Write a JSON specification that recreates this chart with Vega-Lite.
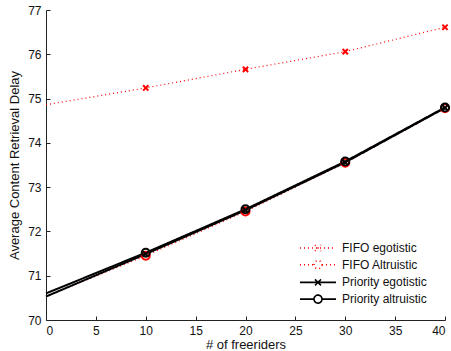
{
  "$schema": "https://vega.github.io/schema/vega-lite/v6.json",
  "width": 399,
  "height": 310,
  "autosize": {"type": "none"},
  "padding": {"left": 46, "top": 10, "right": 6, "bottom": 31},
  "background": "white",
  "config": {
    "font": "Liberation Sans",
    "view": {"stroke": null},
    "axis": {
      "grid": false,
      "domainColor": "#222",
      "tickColor": "#222",
      "labelColor": "#111",
      "titleColor": "#111",
      "labelFontSize": 12,
      "titleFontSize": 13,
      "titleFontWeight": "normal",
      "labelPadding": 5
    }
  },
  "data": {
    "values": [
      {"series": "FIFO egotistic", "x": 0, "y": 74.86},
      {"series": "FIFO egotistic", "x": 10, "y": 75.24},
      {"series": "FIFO egotistic", "x": 20, "y": 75.66},
      {"series": "FIFO egotistic", "x": 30, "y": 76.06},
      {"series": "FIFO egotistic", "x": 40, "y": 76.61},
      {"series": "FIFO Altruistic", "x": 0, "y": 70.53},
      {"series": "FIFO Altruistic", "x": 10, "y": 71.45},
      {"series": "FIFO Altruistic", "x": 20, "y": 72.45},
      {"series": "FIFO Altruistic", "x": 30, "y": 73.55},
      {"series": "FIFO Altruistic", "x": 40, "y": 74.78},
      {"series": "Priority egotistic", "x": 0, "y": 70.53},
      {"series": "Priority egotistic", "x": 10, "y": 71.49},
      {"series": "Priority egotistic", "x": 20, "y": 72.48},
      {"series": "Priority egotistic", "x": 30, "y": 73.56},
      {"series": "Priority egotistic", "x": 40, "y": 74.79},
      {"series": "Priority altruistic", "x": 0, "y": 70.6},
      {"series": "Priority altruistic", "x": 10, "y": 71.52},
      {"series": "Priority altruistic", "x": 20, "y": 72.5},
      {"series": "Priority altruistic", "x": 30, "y": 73.58},
      {"series": "Priority altruistic", "x": 40, "y": 74.8}
    ]
  },
  "resolve": {"axis": {"x": "independent", "y": "independent"}},
  "layer": [
    {
      "transform": [{"filter": "indexof(datum.series, 'FIFO') === 0"}],
      "mark": {"type": "line", "strokeWidth": 1.2, "clip": false},
      "encoding": {
        "x": {
          "field": "x", "type": "quantitative",
          "scale": {"domain": [0, 40], "nice": false},
          "axis": {"values": [0, 5, 10, 15, 20, 25, 30, 35, 40], "title": "# of freeriders", "titlePadding": 2, "orient": "bottom", "ticks": false}
        },
        "y": {
          "field": "y", "type": "quantitative",
          "scale": {"domain": [70, 77], "nice": false, "zero": false},
          "axis": {"values": [70, 71, 72, 73, 74, 75, 76, 77], "title": "Average Content Retrieval Delay", "titlePadding": 6, "orient": "left", "ticks": false}
        },
        "color": {
          "field": "series", "type": "nominal",
          "scale": {
            "domain": ["FIFO egotistic", "FIFO Altruistic", "Priority egotistic", "Priority altruistic"],
            "range": ["#ff0000", "#ff0000", "#000000", "#000000"]
          },
          "legend": {
            "title": null,
            "orient": "none",
            "legendX": 273,
            "legendY": 229,
            "labelFontSize": 12,
            "labelColor": "#111",
            "rowPadding": 0.7,
            "labelOffset": 5,
            "symbolSize": 256,
            "symbolStrokeWidth": 1.6,
            "encode": {
              "symbols": {
                "update": {
                  "shape": {"signal": "indexof(datum.label, 'egotistic') > 0 ? 'M-3.5,0H1M-1.625,-0.375L-0.875,0.375M-1.625,0.375L-0.875,-0.375' : 'M-3.5,0H-1.75M-0.75,0H1M-0.75,0A0.5,0.5 0 1,1 -1.75,0A0.5,0.5 0 1,1 -0.75,0'"}
                }
              }
            }
          }
        },
        "strokeDash": {
          "field": "series", "type": "nominal",
          "scale": {
            "domain": ["FIFO egotistic", "FIFO Altruistic", "Priority egotistic", "Priority altruistic"],
            "range": [[1, 3], [1, 3], [1, 0], [1, 0]]
          }
        }
      }
    },
    {
      "transform": [{"filter": "indexof(datum.series, 'Priority') === 0"}],
      "mark": {"type": "line", "strokeWidth": 2, "clip": false},
      "encoding": {
        "x": {"field": "x", "type": "quantitative", "axis": {"orient": "bottom", "values": [0, 5, 10, 15, 20, 25, 30, 35, 40], "ticks": true, "tickSize": 4, "offset": -4, "labels": false, "domain": false, "title": null}},
        "y": {"field": "y", "type": "quantitative", "axis": {"orient": "left", "values": [70, 71, 72, 73, 74, 75, 76, 77], "ticks": true, "tickSize": 4, "offset": -4, "labels": false, "domain": false, "title": null}},
        "color": {"field": "series", "type": "nominal"},
        "strokeDash": {"field": "series", "type": "nominal"}
      }
    },
    {
      "transform": [{"filter": "datum.x > 0"}],
      "mark": {"type": "point", "filled": false, "strokeWidth": 2, "opacity": 1, "clip": false},
      "encoding": {
        "x": {"field": "x", "type": "quantitative", "axis": null},
        "y": {"field": "y", "type": "quantitative", "axis": null},
        "stroke": {
          "condition": {"test": "indexof(datum.series, 'FIFO') === 0", "value": "#ff0000"},
          "value": "#000000"
        },
        "shape": {
          "condition": {"test": "indexof(datum.series, 'egotistic') > 0", "value": "M-1,-1L1,1M-1,1L1,-1"},
          "value": "circle"
        },
        "size": {
          "condition": {"test": "indexof(datum.series, 'egotistic') > 0", "value": 28},
          "value": 64
        },
        "detail": {"field": "series"}
      }
    }
  ]
}
